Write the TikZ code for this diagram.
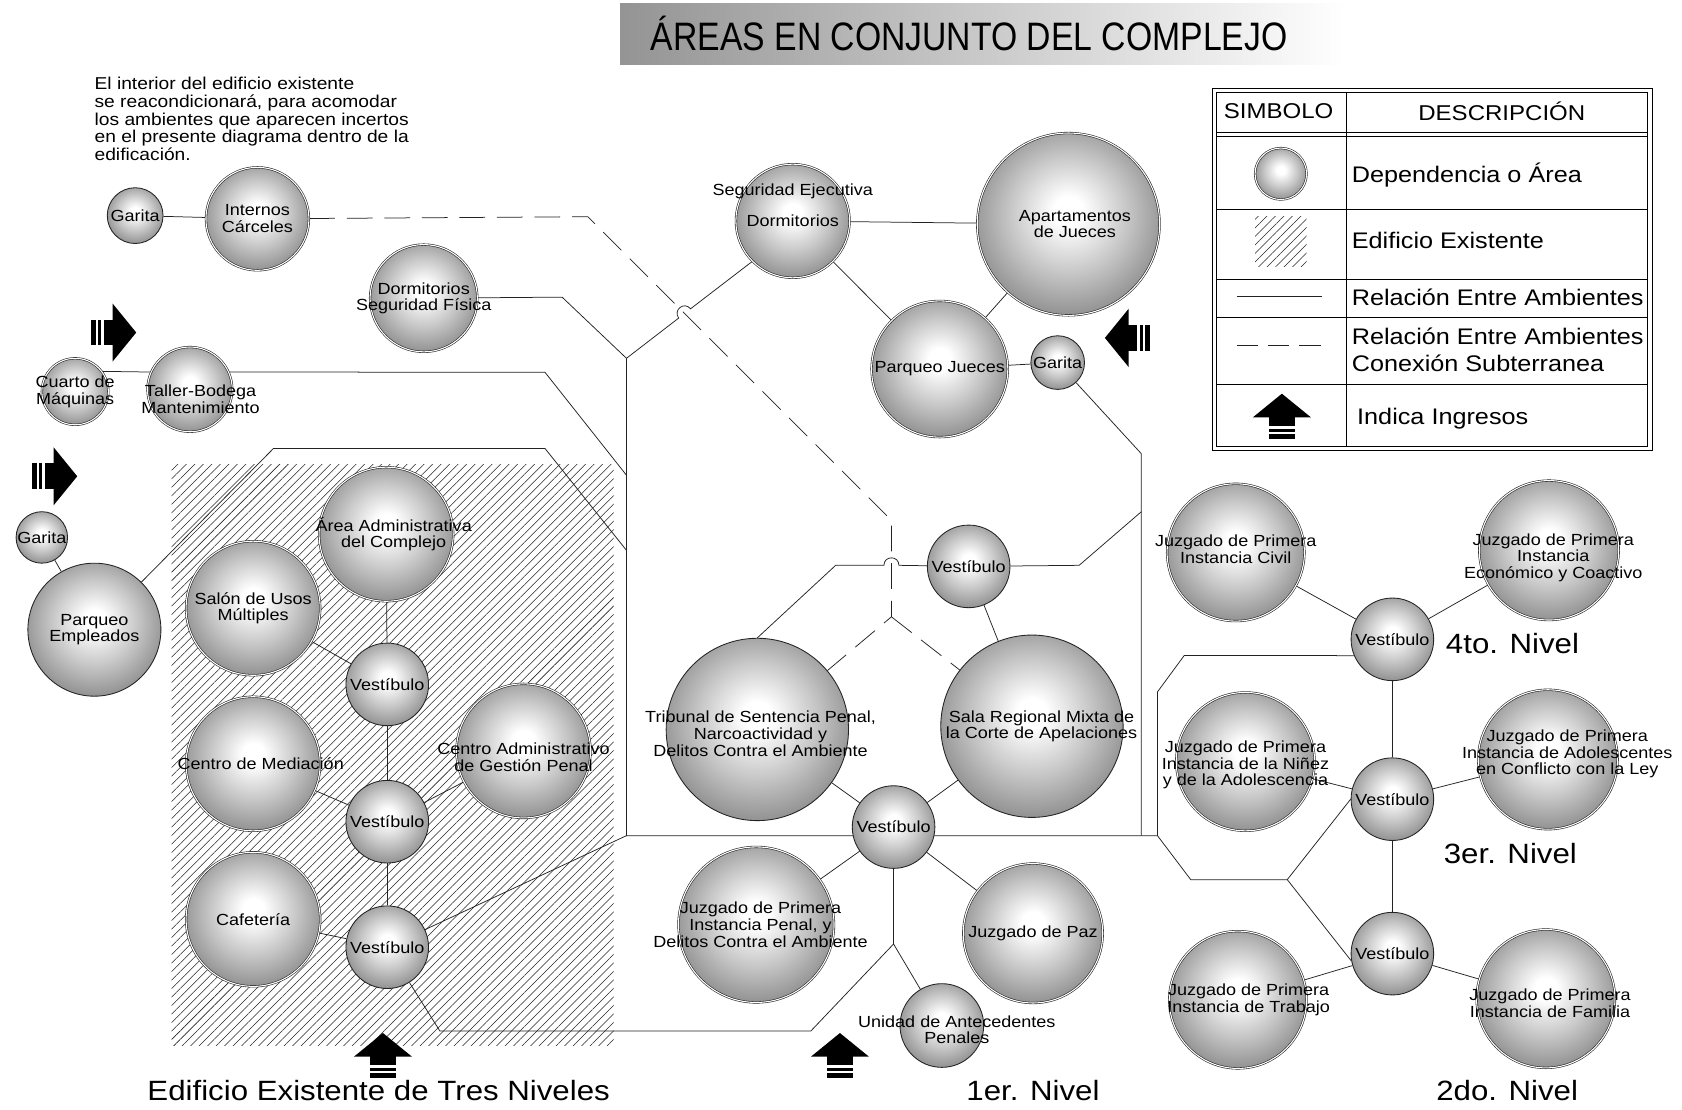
\documentclass[tikz,border=0pt]{standalone}
\usepackage{fontspec}
\setmainfont{Liberation Sans}[FakeStretch=1.12]
\newfontfamily\titlefont{Liberation Sans}[FakeStretch=0.85]
\usepackage{tikz}
\usetikzlibrary{backgrounds, patterns.meta}
\definecolor{linegray}{RGB}{35, 35, 35}

\pgfdeclareradialshading{orb}{\pgfpoint{0bp}{4bp}}{color(0bp)=(white); color(4bp)=(white); color(16bp)=(black!22); color(28bp)=(black!45); color(35bp)=(black!64); color(50bp)=(black!70)}

\tikzset{
  area/.style={circle, draw=linegray, line width=0.55pt, double=white, double distance=1pt,
    shading=orb, minimum size=#1, inner sep=0pt},
  hall/.style={circle, draw=linegray, line width=0.8pt, shading=orb, minimum size=#1, inner sep=0pt},
  lbl/.style={align=center, inner sep=0pt, font=\fontsize{15}{15.5}\selectfont},
  link/.style={draw=linegray, line width=0.7pt},
  subte/.style={link, dash pattern=on 24pt off 11pt},
  hatch/.style={pattern={Lines[angle=45, distance=5.6pt, line width=0.5pt]}, pattern color=black!85},
  nivel/.style={font=\fontsize{26}{28}\selectfont},
  leyenda/.style={anchor=west, inner sep=2pt, font=\fontsize{21}{23}\selectfont},
  ingreso/.pic={
    \fill (0,-21) -- (27,1) -- (-27,1) -- cycle;
    \fill (-12,0) rectangle (12,9);
    \fill (-12,11.5) rectangle (12,14.5);
    \fill (-12,16.5) rectangle (12,21);
  }
}

\begin{document}
\begin{tikzpicture}[x=1pt, y=-1pt]
\useasboundingbox (0,0) rectangle (1568,1034);

% title and note
\node[minimum width=677pt, minimum height=57pt, inner sep=0pt, left color=black!42, right color=white,
  label={[font=\titlefont\fontsize{37}{40}\selectfont, xshift=-13pt]center:ÁREAS EN CONJUNTO DEL COMPLEJO}] (titulo) at (916.5,31.5) {};
\node[anchor=north west, align=left, inner sep=0pt, font=\fontsize{16}{16.5}\selectfont] (nota) at (88,72)
  {El interior del edificio existente\\se reacondicionará, para acomodar\\los ambientes que aparecen incertos\\en el presente diagrama dentro de la\\edificación.};

% left side
\node[hall=52pt, label={[lbl]center:Garita}] (garita1) at (126,201) {};
\node[area=96pt, label={[lbl]center:Internos\\Cárceles}] (internos) at (240,204) {};
\node[area=100pt, label={[lbl]center:Dormitorios\\Seguridad Física}] (dormfis) at (395,278) {};
\node[area=62pt, label={[lbl]center:Cuarto de\\Máquinas}] (cuarto) at (70,365) {};
\node[area=79pt, label={[lbl,xshift=10pt,yshift=-9pt]center:Taller-Bodega\\Mantenimiento}] (taller) at (177,363) {};
\node[hall=48pt, label={[lbl]center:Garita}] (garita2) at (39,501) {};
\node[hall=124pt, label={[lbl]center:Parqueo\\Empleados}] (parqemp) at (88,587) {};

% existing building
\node[area=125pt, label={[lbl,xshift=7pt]center:Área Administrativa\\del Complejo}] (areaadm) at (360,498) {};
\node[area=125pt, label={[lbl]center:Salón de Usos\\Múltiples}] (salon) at (236,567) {};
\node[hall=77pt, label={[lbl]center:Vestíbulo}] (vest1) at (361,638) {};
\node[area=125pt, label={[lbl,xshift=7pt]center:Centro de Mediación}] (centmed) at (236,712) {};
\node[area=125pt, label={[lbl,yshift=-6pt]center:Centro Administrativo\\de Gestión Penal}] (centadm) at (488,700) {};
\node[hall=77pt, label={[lbl]center:Vestíbulo}] (vest2) at (361,766) {};
\node[area=125pt, label={[lbl]center:Cafetería}] (cafe) at (236,857) {};
\node[hall=77pt, label={[lbl]center:Vestíbulo}] (vest3) at (361,883) {};

% centre, 1er. nivel
\node[area=106pt, label={[lbl]center:Dormitorios}, label={[lbl,yshift=28pt]center:Seguridad Ejecutiva}] (segej) at (739,206) {};
\node[area=170pt, label={[lbl,xshift=6pt]center:Apartamentos\\de Jueces}] (apart) at (996,209) {};
\node[area=127pt, label={[lbl]center:Parqueo Jueces}] (parqjue) at (876,344) {};
\node[hall=50pt, label={[lbl]center:Garita}] (garita3) at (986,338) {};
\node[hall=77pt, label={[lbl]center:Vestíbulo}] (vestc) at (903,528) {};
\node[hall=170pt, label={[lbl,xshift=3pt,yshift=-4pt]center:{Tribunal de Sentencia Penal,\\Narcoactividad y\\Delitos Contra el Ambiente}}] (tribunal) at (706,680) {};
\node[hall=170pt, label={[lbl,xshift=9pt]center:Sala Regional Mixta de\\la Corte de Apelaciones}] (sala) at (962,677) {};
\node[hall=77pt, label={[lbl]center:Vestíbulo}] (vest1n) at (833,771) {};
\node[area=145pt, label={[lbl,xshift=4pt]center:{Juzgado de Primera\\Instancia Penal, y\\Delitos Contra el Ambiente}}] (juzpenal) at (705,862) {};
\node[area=130pt, label={[lbl]center:Juzgado de Paz}] (juzpaz) at (963,870) {};
\node[hall=78pt, label={[lbl,xshift=14pt,yshift=-4pt]center:Unidad de Antecedentes\\Penales}] (unidad) at (878,956) {};

% right side, levels 2 to 4
\node[area=128pt, label={[lbl,yshift=3pt]center:Juzgado de Primera\\Instancia Civil}] (juzcivil) at (1152,515) {};
\node[area=130pt, label={[lbl,xshift=4pt,yshift=-7pt]center:Juzgado de Primera\\Instancia\\Económico y Coactivo}] (juzeco) at (1444,513) {};
\node[hall=77pt, label={[lbl]center:Vestíbulo}] (vest4) at (1298,596) {};
\node[area=129pt, label={[lbl,yshift=-3pt]center:Juzgado de Primera\\Instancia de la Niñez\\y de la Adolescencia}] (juzninez) at (1161,710) {};
\node[hall=77pt, label={[lbl]center:Vestíbulo}] (vest3n) at (1298,745) {};
\node[area=130pt, label={[lbl,xshift=18pt,yshift=5pt]center:Juzgado de Primera\\Instancia de Adolescentes\\en Conflicto con la Ley}] (juzadol) at (1443,708) {};
\node[hall=77pt, label={[lbl]center:Vestíbulo}] (vest2n) at (1298,889) {};
\node[area=128pt, label={[lbl,xshift=10pt]center:Juzgado de Primera\\Instancia de Trabajo}] (juztrab) at (1154,932) {};
\node[area=129pt, label={[lbl,xshift=4pt,yshift=-4pt]center:Juzgado de Primera\\Instancia de Familia}] (juzfam) at (1441,931) {};

\node[nivel] (n4) at (1410,600) {4to. Nivel};
\node[nivel] (n3) at (1408,796) {3er. Nivel};
\node[nivel] (n2) at (1405,1017) {2do. Nivel};
\node[nivel] (n1) at (963,1017) {1er. Nivel};
\node[nivel] (n0) at (353,1017) {Edificio Existente de Tres Niveles};

% entries
\pic[rotate=-90] at (106,310) {ingreso};
\pic[rotate=-90] at (51,444) {ingreso};
\pic[rotate=90] at (1051,315) {ingreso};
\pic at (357,984) {ingreso};
\pic at (783,984) {ingreso};

% legend
\draw[line width=0.7pt] (1130,82) rectangle (1540,420);
\draw[line width=0.7pt] (1134,86) rectangle (1536,416);
\draw[line width=0.7pt] (1255,86) -- (1255,416);
\draw[line width=0.7pt] (1134,123) -- (1536,123) (1134,127.5) -- (1536,127.5);
\draw[line width=0.7pt] (1134,195) -- (1536,195) (1134,260) -- (1536,260)
  (1134,296) -- (1536,296) (1134,358) -- (1536,358);
\node[font=\fontsize{20}{22}\selectfont] (hsim) at (1192,104) {SIMBOLO};
\node[font=\fontsize{20}{22}\selectfont] (hdesc) at (1400,104) {DESCRIPCIÓN};
\node[area=48pt] (symarea) at (1194,162) {};
\fill[hatch] (1170,202) rectangle (1218,248);
\draw[link] (1153,276) -- (1232,276);
\draw[link, dash pattern=on 20pt off 9pt] (1153,322) -- (1232,322);
\pic at (1195,388) {ingreso};
\node[leyenda] (tdep) at (1258,163) {Dependencia o Área};
\node[leyenda] (tedi) at (1258,224) {Edificio Existente};
\node[leyenda] (trel) at (1258,277) {Relación Entre Ambientes};
\node[leyenda, align=left, font=\fontsize{21}{25}\selectfont] (tsub) at (1258,326) {Relación Entre Ambientes\\Conexión Subterranea};
\node[leyenda] (ting) at (1263,390) {Indica Ingresos};

% bends of the connectors
\coordinate (dA) at (548,202);
\coordinate (dB) at (831,485);
\coordinate (dC) at (831,575);
\coordinate (s1) at (524,277);
\coordinate (J1) at (584,334);
\coordinate (J2) at (584,443);
\coordinate (J3) at (584,513);
\coordinate (J4) at (584,779);
\coordinate (J5) at (833,880);
\coordinate (c1) at (508,347);
\coordinate (p1) at (255,418);
\coordinate (p2) at (508,418);
\coordinate (t1) at (779,527);
\coordinate (v1) at (1006,527);
\coordinate (v2) at (1064,477);
\coordinate (g1) at (1064,423);
\coordinate (h2) at (1064,779);
\coordinate (h3) at (1079,779);
\coordinate (r1) at (1104,611);
\coordinate (r2) at (1079,645);
\coordinate (r3) at (1110,820);
\coordinate (r4) at (1200,820);
\coordinate (b1) at (410,961);
\coordinate (b2) at (756,961);
\coordinate (hopA) at (632.7,296.5);
\coordinate (hopB) at (643.7,287.9);
\coordinate (hopC) at (824,527);
\coordinate (hopD) at (838,527);

\begin{scope}[on background layer]
  \fill[white] (0,0) rectangle (1568,1034);
  \fill[hatch] (160,433) rectangle (572,975);

  \draw[subte] (internos) -- (dA) -- (dB) -- (dC) -- (tribunal);
  \draw[subte] (dC) -- (sala);

  \draw[link] (dormfis) -- (s1) -- (J1) -- (J4) -- (h3);
  \draw[link] (J1) -- (hopA) .. controls +(-5.7,-7.4) and +(-5.7,-7.4) .. (hopB) -- (segej.225);
  \draw[link] (cuarto.37) -- (taller.156);
  \draw[link] (taller.24) -- (c1) -- (J2);
  \draw[link] (parqemp) -- (p1) -- (p2) -- (J3);
  \draw[link] (vest3) -- (J4);
  \draw[link] (vest3) -- (b1) -- (b2) -- (J5) -- (unidad);
  \draw[link] (vest1n) -- (J5);
  \draw[link] (tribunal.north) -- (t1) -- (hopC) .. controls +(0,-9.3) and +(0,-9.3) .. (hopD) -- (vestc);
  \draw[link] (vestc) -- (v1) -- (v2);
  \draw[link] (garita3) -- (g1) -- (h2);
  \draw[link] (vest4.203) -- (r1) -- (r2) -- (h3) -- (r3) -- (r4) -- (vest3n.west);
  \draw[link] (r4) -- (vest2n.190);

  \foreach \a/\b in {garita1/internos, garita2/parqemp, areaadm/vest1, salon/vest1, vest1/vest2,
      centmed/vest2, vest2/centadm, vest2/vest3, cafe/vest3, segej/apart, segej/parqjue,
      apart/parqjue, parqjue/garita3, vestc/sala, tribunal/vest1n, sala/vest1n,
      vest1n/juzpenal, vest1n/juzpaz, juzcivil/vest4, vest4/juzeco, vest4/vest3n,
      juzninez/vest3n, vest3n/juzadol, vest3n/vest2n, juztrab/vest2n, vest2n/juzfam}
    \draw[link] (\a) -- (\b);
\end{scope}
\end{tikzpicture}
\end{document}
